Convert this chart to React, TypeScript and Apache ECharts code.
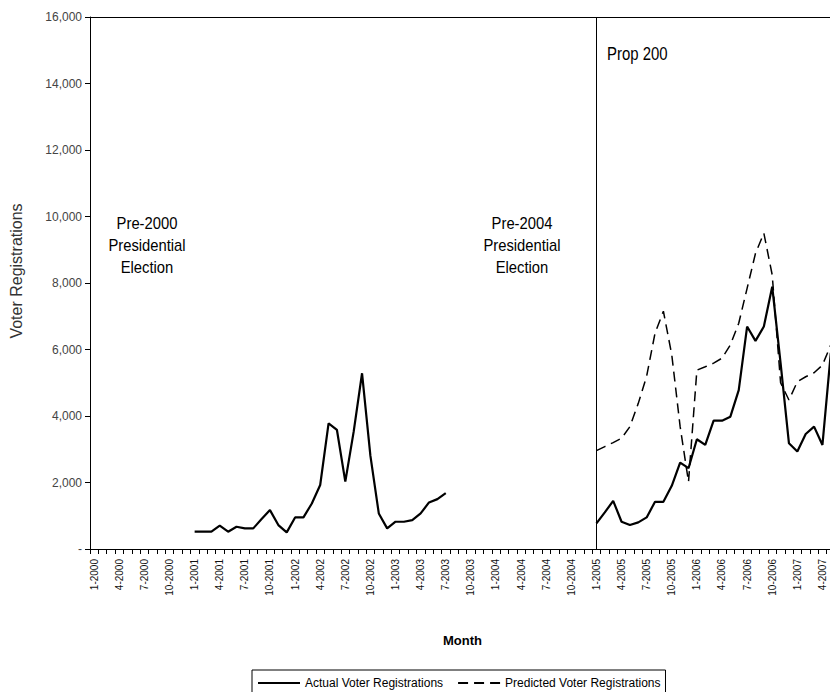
import React, { useEffect, useRef } from "react";
import * as echarts from "echarts";

// Month categories: 1-2000 ... 5-2007
const startYear = 2000;
const endYear = 2007;
const lastMonthOfEndYear = 5;
const months: string[] = [];
for (let y = startYear; y <= endYear; y++) {
  for (let m = 1; m <= 12; m++) {
    if (y === endYear && m > lastMonthOfEndYear) break;
    months.push(`${m}-${y}`);
  }
}

// Actual voter registrations, Jan 2001 – Jul 2003
const actualStartA = "1-2001";
const actualA = [
  520, 520, 520, 700, 520, 670, 620, 620, 900, 1170, 720, 500,
  950, 950, 1370, 1925, 3780, 3580, 2025, 3530, 5285, 2800, 1070, 620,
  820, 820, 870, 1070, 1400, 1500, 1680,
];

// Actual voter registrations, Jan 2005 – May 2007
const actualStartB = "1-2005";
const actualB = [
  770, 1100, 1450, 820, 720, 800, 950, 1420, 1420, 1900, 2600, 2430,
  3300, 3130, 3860, 3860, 3980, 4780, 6690, 6260, 6690, 7890, 5590, 3180,
  2930, 3460, 3680, 3130, 5900,
];

// Predicted voter registrations, Jan 2005 – May 2007
const predictedStart = "1-2005";
const predicted = [
  2960, 3080, 3200, 3330, 3680, 4380, 5200, 6490, 7150, 5840, 3680, 2020,
  5380, 5480, 5590, 5740, 6140, 6790, 7840, 8890, 9500, 8240, 5000, 4480,
  5030, 5180, 5300, 5530, 6140,
];

const yTicks = { min: 0, max: 16000, interval: 2000 };
const propLineAt = "1-2005";

const sans = "'Liberation Sans', Arial, sans-serif";

function place(start: string, values: number[]): (number | null)[] {
  const out: (number | null)[] = months.map(() => null);
  const s = months.indexOf(start);
  values.forEach((v, i) => {
    out[s + i] = v;
  });
  return out;
}

export default function App() {
  const ref = useRef<HTMLDivElement>(null);
  useEffect(() => {
    if (!ref.current) return;
    const chart = echarts.init(ref.current, undefined, { renderer: "svg" });
    const actualData = place(actualStartA, actualA);
    const bData = place(actualStartB, actualB);
    bData.forEach((v, i) => {
      if (v !== null) actualData[i] = v;
    });
    const predData = place(predictedStart, predicted);

    const noteStyle = {
      fontFamily: sans,
      fontSize: 17,
      lineHeight: 22,
      align: "center",
      verticalAlign: "top",
      fill: "#000",
    };

    chart.setOption({
      animation: false,
      backgroundColor: "#fff",
      grid: { left: 90, right: 3, top: 17, bottom: 151, containLabel: false },
      xAxis: {
        type: "category",
        data: months,
        boundaryGap: true,
        name: "Month",
        nameLocation: "middle",
        nameGap: 85,
        nameTextStyle: { fontFamily: sans, fontWeight: "bold", fontSize: 13, color: "#000" },
        axisLine: { show: true, lineStyle: { color: "#000", width: 1 } },
        axisTick: { show: true, interval: 0, length: 5, lineStyle: { color: "#000" } },
        axisLabel: {
          interval: 2,
          rotate: 90,
          margin: 10,
          fontFamily: sans,
          fontSize: 10,
          color: "#111",
        },
        splitLine: { show: false },
      },
      yAxis: {
        type: "value",
        min: yTicks.min,
        max: yTicks.max,
        interval: yTicks.interval,
        axisLine: { show: true, lineStyle: { color: "#000", width: 1 } },
        axisTick: { show: true, length: 5, lineStyle: { color: "#000" } },
        axisLabel: {
          margin: 8,
          fontFamily: sans,
          fontSize: 12,
          color: "#444",
          formatter: (v: number) => (v === 0 ? "-" : v.toLocaleString("en-US")),
        },
        splitLine: { show: false },
      },
      legend: {
        top: 670,
        left: 252,
        data: ["Actual Voter Registrations", "Predicted Voter Registrations"],
        borderColor: "#000",
        borderWidth: 1,
        borderRadius: 0,
        padding: [7, 5, 7, 5],
        itemWidth: 42,
        itemHeight: 10,
        itemGap: 14,
        itemStyle: { color: "rgba(0,0,0,0)", borderWidth: 0, opacity: 0 },
        textStyle: { fontFamily: sans, fontSize: 12, color: "#000" },
      },
      series: [
        {
          name: "Actual Voter Registrations",
          type: "line",
          data: actualData,
          symbol: "none",
          showSymbol: false,
          connectNulls: false,
          lineStyle: { color: "#000", width: 2.2, type: "solid" },
          itemStyle: { color: "#000" },
          markLine: {
            silent: true,
            symbol: "none",
            label: { show: false },
            lineStyle: { color: "#000", width: 1, type: "solid" },
            data: [{ xAxis: propLineAt }, { yAxis: yTicks.max }],
          },
        },
        {
          name: "Predicted Voter Registrations",
          type: "line",
          data: predData,
          symbol: "none",
          showSymbol: false,
          connectNulls: false,
          lineStyle: { color: "#000", width: 1.5, type: [10, 6] },
          itemStyle: { color: "#000" },
        },
      ],
      graphic: [
        {
          type: "text",
          x: 16,
          y: 271,
          rotation: Math.PI / 2,
          style: {
            text: "Voter Registrations",
            fontFamily: sans,
            fontSize: 16,
            align: "center",
            verticalAlign: "middle",
            fill: "#333",
          },
        },
        {
          type: "text",
          x: 147,
          y: 212,
          scaleX: 0.87,
          style: { ...noteStyle, text: "Pre-2000\nPresidential\nElection" },
        },
        {
          type: "text",
          x: 522,
          y: 212,
          scaleX: 0.87,
          style: { ...noteStyle, text: "Pre-2004\nPresidential\nElection" },
        },
        {
          type: "text",
          x: 607,
          y: 45,
          scaleX: 0.83,
          style: {
            text: "Prop 200",
            fontFamily: sans,
            fontSize: 18,
            fill: "#000",
          },
        },
      ],
    });
    return () => chart.dispose();
  }, []);
  return <div ref={ref} style={{ width: 838, height: 700, margin: -8 }} />;
}
